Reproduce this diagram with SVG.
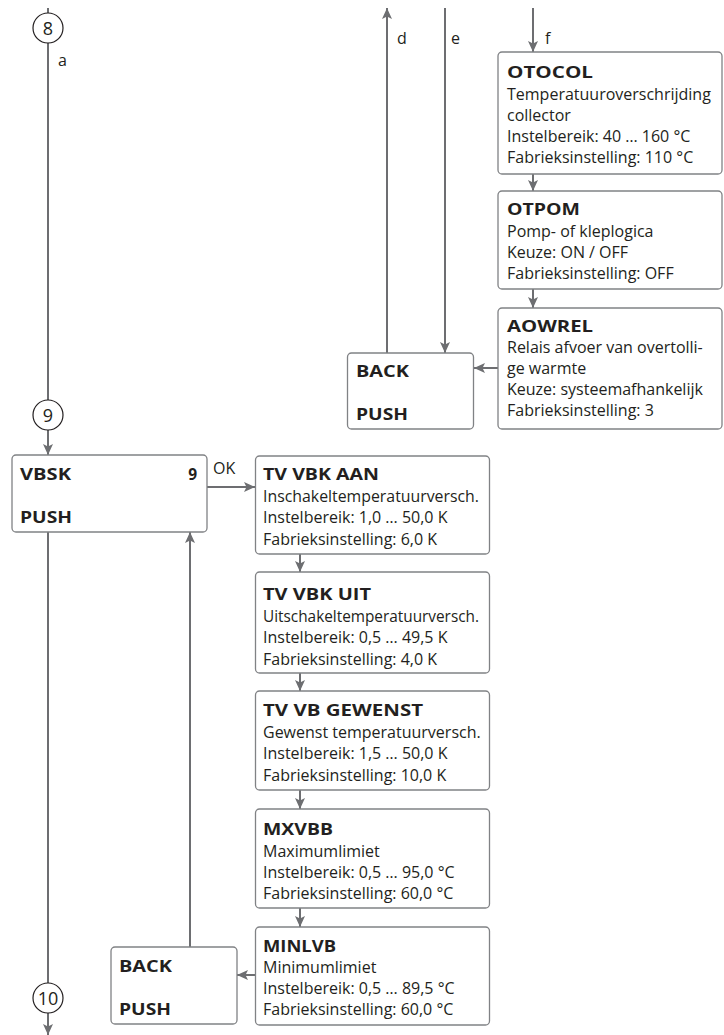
<svg xmlns="http://www.w3.org/2000/svg" width="724" height="1035" viewBox="0 0 724 1035">
  <style>
    .box { fill: #ffffff; stroke: #808285; stroke-width: 1.3; }
    .conn { fill: none; stroke: #6d6e71; stroke-width: 2; }
    .pin { fill: #ffffff; stroke: #231f20; stroke-width: 1.2; }
    text { font-family: "Open Sans", "Liberation Sans", sans-serif; font-size: 16px; fill: #231f20; }
    .t { font-weight: bold; font-size: 15.5px; }
    .n { font-size: 18px; text-anchor: middle; }
    .lbl { font-size: 16px; }
  </style>
  <defs>
    <marker id="arr" markerUnits="userSpaceOnUse" markerWidth="12" markerHeight="12" refX="11" refY="5" orient="auto">
      <path d="M0,0 L11,5 L0,10 L2.5,5 z" fill="#6d6e71"/>
    </marker>
  </defs>

  <rect width="724" height="1035" fill="#ffffff"/>

  <!-- connectors -->
  <g id="connectors">
    <line class="conn" x1="48" y1="8" x2="48" y2="400"/>
    <line class="conn" x1="48" y1="430" x2="48" y2="455" marker-end="url(#arr)"/>
    <line class="conn" x1="48" y1="532" x2="48" y2="983"/>
    <line class="conn" x1="48" y1="1013" x2="48" y2="1035" marker-end="url(#arr)"/>
    <line class="conn" x1="207" y1="487" x2="255" y2="487" marker-end="url(#arr)"/>
    <line class="conn" x1="300" y1="554" x2="300" y2="572" marker-end="url(#arr)"/>
    <line class="conn" x1="300" y1="673" x2="300" y2="691" marker-end="url(#arr)"/>
    <line class="conn" x1="300" y1="790" x2="300" y2="809" marker-end="url(#arr)"/>
    <line class="conn" x1="300" y1="908" x2="300" y2="927" marker-end="url(#arr)"/>
    <line class="conn" x1="255" y1="975" x2="237" y2="975" marker-end="url(#arr)"/>
    <line class="conn" x1="190" y1="947" x2="190" y2="532" marker-end="url(#arr)"/>
    <line class="conn" x1="387" y1="353" x2="387" y2="8" marker-end="url(#arr)"/>
    <line class="conn" x1="445" y1="8" x2="445" y2="353" marker-end="url(#arr)"/>
    <line class="conn" x1="533" y1="8" x2="533" y2="52" marker-end="url(#arr)"/>
    <line class="conn" x1="533" y1="174" x2="533" y2="191" marker-end="url(#arr)"/>
    <line class="conn" x1="533" y1="289" x2="533" y2="308" marker-end="url(#arr)"/>
    <line class="conn" x1="498" y1="368" x2="474" y2="368" marker-end="url(#arr)"/>
    <text class="lbl" x="58" y="66">a</text>
    <text class="lbl" x="397" y="44">d</text>
    <text class="lbl" x="451" y="44">e</text>
    <text class="lbl" x="545" y="44">f</text>
    <text class="lbl" x="213" y="474">OK</text>
  </g>

  <!-- page connectors -->
  <g id="pin8"><circle class="pin" cx="48" cy="28" r="15"/><text class="n" x="48" y="34.5">8</text></g>
  <g id="pin9"><circle class="pin" cx="48" cy="415" r="15"/><text class="n" x="48" y="421.5">9</text></g>
  <g id="pin10"><circle class="pin" cx="48" cy="998" r="15"/><text class="n" x="48" y="1004.5">10</text></g>

  <!-- menu entries -->
  <g id="otocol">
    <rect class="box" x="498" y="52" width="224" height="122" rx="4"/>
    <text class="t" x="507" y="78" textLength="86" lengthAdjust="spacingAndGlyphs">OTOCOL</text>
    <text x="507" y="100">Temperatuuroverschrijding</text>
    <text x="507" y="121">collector</text>
    <text x="507" y="142">Instelbereik: 40 … 160 °C</text>
    <text x="507" y="163">Fabrieksinstelling: 110 °C</text>
  </g>
  <g id="otpom">
    <rect class="box" x="498" y="191" width="224" height="98" rx="4"/>
    <text class="t" x="507" y="215" textLength="73" lengthAdjust="spacingAndGlyphs">OTPOM</text>
    <text x="507" y="236.5">Pomp- of kleplogica</text>
    <text x="507" y="258">Keuze: ON / OFF</text>
    <text x="507" y="279">Fabrieksinstelling: OFF</text>
  </g>
  <g id="aowrel">
    <rect class="box" x="498" y="308" width="224" height="121" rx="4"/>
    <text class="t" x="507" y="332" textLength="86" lengthAdjust="spacingAndGlyphs">AOWREL</text>
    <text x="507" y="353">Relais afvoer van overtolli-</text>
    <text x="507" y="374">ge warmte</text>
    <text x="507" y="395">Keuze: systeemafhankelijk</text>
    <text x="507" y="416">Fabrieksinstelling: 3</text>
  </g>
  <g id="back1">
    <rect class="box" x="347.5" y="353" width="126" height="76" rx="4"/>
    <text class="t" x="356" y="377" textLength="53" lengthAdjust="spacingAndGlyphs">BACK</text>
    <text class="t" x="356" y="420" textLength="52" lengthAdjust="spacingAndGlyphs">PUSH</text>
  </g>
  <g id="vbsk">
    <rect class="box" x="12" y="455" width="195" height="77" rx="4"/>
    <text class="t" x="20" y="480" textLength="51" lengthAdjust="spacingAndGlyphs">VBSK</text>
    <text class="t" x="197" y="480" text-anchor="end">9</text>
    <text class="t" x="20" y="523" textLength="52" lengthAdjust="spacingAndGlyphs">PUSH</text>
  </g>
  <g id="tvvbk-aan">
    <rect class="box" x="255.5" y="456" width="234" height="98" rx="4"/>
    <text class="t" x="263" y="480" textLength="116" lengthAdjust="spacingAndGlyphs">TV VBK AAN</text>
    <text x="263" y="501.5" textLength="216" lengthAdjust="spacingAndGlyphs">Inschakeltemperatuurversch.</text>
    <text x="263" y="523">Instelbereik: 1,0 … 50,0 K</text>
    <text x="263" y="544.5">Fabrieksinstelling: 6,0 K</text>
  </g>
  <g id="tvvbk-uit">
    <rect class="box" x="255.5" y="572" width="234" height="101" rx="4"/>
    <text class="t" x="263" y="600" textLength="108" lengthAdjust="spacingAndGlyphs">TV VBK UIT</text>
    <text x="263" y="621.5" textLength="216" lengthAdjust="spacingAndGlyphs">Uitschakeltemperatuurversch.</text>
    <text x="263" y="643">Instelbereik: 0,5 … 49,5 K</text>
    <text x="263" y="665">Fabrieksinstelling: 4,0 K</text>
  </g>
  <g id="tvvb-gewenst">
    <rect class="box" x="255.5" y="691" width="234" height="99" rx="4"/>
    <text class="t" x="263" y="716" textLength="160" lengthAdjust="spacingAndGlyphs">TV VB GEWENST</text>
    <text x="263" y="737.5">Gewenst temperatuurversch.</text>
    <text x="263" y="759">Instelbereik: 1,5 … 50,0 K</text>
    <text x="263" y="780.5">Fabrieksinstelling: 10,0 K</text>
  </g>
  <g id="mxvbb">
    <rect class="box" x="255.5" y="809" width="234" height="99" rx="4"/>
    <text class="t" x="263" y="835" textLength="70" lengthAdjust="spacingAndGlyphs">MXVBB</text>
    <text x="263" y="856.5">Maximumlimiet</text>
    <text x="263" y="877.5">Instelbereik: 0,5 … 95,0 °C</text>
    <text x="263" y="898.5">Fabrieksinstelling: 60,0 °C</text>
  </g>
  <g id="minlvb">
    <rect class="box" x="255.5" y="927" width="234" height="98" rx="4"/>
    <text class="t" x="263" y="952" textLength="73" lengthAdjust="spacingAndGlyphs">MINLVB</text>
    <text x="263" y="973">Minimumlimiet</text>
    <text x="263" y="994">Instelbereik: 0,5 … 89,5 °C</text>
    <text x="263" y="1015">Fabrieksinstelling: 60,0 °C</text>
  </g>
  <g id="back2">
    <rect class="box" x="111" y="947" width="126" height="77" rx="4"/>
    <text class="t" x="119" y="972" textLength="53" lengthAdjust="spacingAndGlyphs">BACK</text>
    <text class="t" x="119" y="1015" textLength="52" lengthAdjust="spacingAndGlyphs">PUSH</text>
  </g>
</svg>
